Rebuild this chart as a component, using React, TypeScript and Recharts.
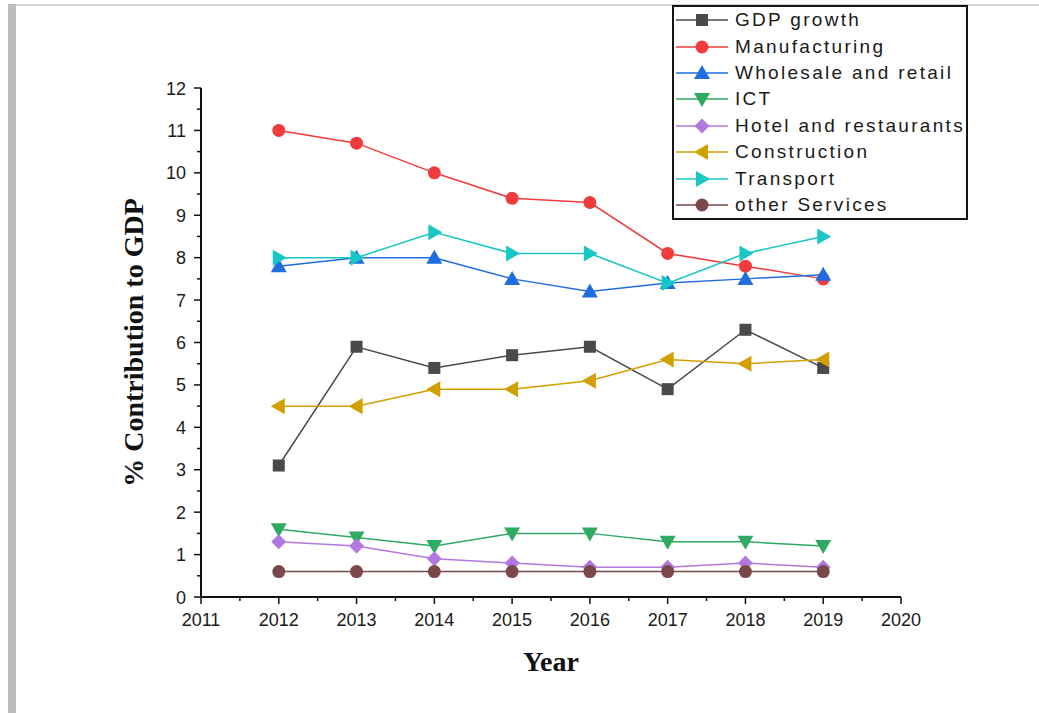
import React from "react";
import { LineChart, Line, XAxis, YAxis, Legend } from "recharts";

// Years on the x axis
const years = [2012, 2013, 2014, 2015, 2016, 2017, 2018, 2019];

// Sector contributions (% of GDP) and GDP growth
const gdpGrowth = [3.1, 5.9, 5.4, 5.7, 5.9, 4.9, 6.3, 5.4];
const manufacturing = [11.0, 10.7, 10.0, 9.4, 9.3, 8.1, 7.8, 7.5];
const wholesaleRetail = [7.8, 8.0, 8.0, 7.5, 7.2, 7.4, 7.5, 7.6];
const ict = [1.6, 1.4, 1.2, 1.5, 1.5, 1.3, 1.3, 1.2];
const hotelRestaurants = [1.3, 1.2, 0.9, 0.8, 0.7, 0.7, 0.8, 0.7];
const construction = [4.5, 4.5, 4.9, 4.9, 5.1, 5.6, 5.5, 5.6];
const transport = [8.0, 8.0, 8.6, 8.1, 8.1, 7.4, 8.1, 8.5];
const otherServices = [0.6, 0.6, 0.6, 0.6, 0.6, 0.6, 0.6, 0.6];

// Axis ticks: labelled majors and unlabelled minors
const xMajorTicks = [2011, 2012, 2013, 2014, 2015, 2016, 2017, 2018, 2019, 2020];
const xMinorTicks = [2011.5, 2012.5, 2013.5, 2014.5, 2015.5, 2016.5, 2017.5, 2018.5, 2019.5];
const yMajorTicks = [0, 1, 2, 3, 4, 5, 6, 7, 8, 9, 10, 11, 12];
const yMinorTicks = [0.5, 1.5, 2.5, 3.5, 4.5, 5.5, 6.5, 7.5, 8.5, 9.5, 10.5, 11.5];

const xAllTicks = [...xMajorTicks, ...xMinorTicks].sort((a, b) => a - b);
const yAllTicks = [...yMajorTicks, ...yMinorTicks].sort((a, b) => a - b);

type Shape = "square" | "circle" | "up" | "down" | "diamond" | "left" | "right";

const series: { key: string; name: string; color: string; shape: Shape; values: number[] }[] = [
  { key: "gdp", name: "GDP growth", color: "#4a4a4a", shape: "square", values: gdpGrowth },
  { key: "mfg", name: "Manufacturing", color: "#f03c3c", shape: "circle", values: manufacturing },
  { key: "whl", name: "Wholesale and retail", color: "#1f6ddf", shape: "up", values: wholesaleRetail },
  { key: "ict", name: "ICT", color: "#2eaa62", shape: "down", values: ict },
  { key: "htl", name: "Hotel and restaurants", color: "#b377e0", shape: "diamond", values: hotelRestaurants },
  { key: "con", name: "Construction", color: "#d29f00", shape: "left", values: construction },
  { key: "trn", name: "Transport", color: "#19c6c6", shape: "right", values: transport },
  { key: "oth", name: "other Services", color: "#7a4848", shape: "circle", values: otherServices },
];

const data = years.map((year, i) => {
  const row: Record<string, number> = { year };
  series.forEach((s) => {
    row[s.key] = s.values[i];
  });
  return row;
});

function Marker({ cx, cy, shape, color }: { cx: number; cy: number; shape: Shape; color: string }) {
  switch (shape) {
    case "square":
      return <rect x={cx - 6} y={cy - 6} width={12} height={12} fill={color} />;
    case "circle":
      return <circle cx={cx} cy={cy} r={6.5} fill={color} />;
    case "up":
      return <polygon points={`${cx},${cy - 8} ${cx + 8},${cy + 6} ${cx - 8},${cy + 6}`} fill={color} />;
    case "down":
      return <polygon points={`${cx},${cy + 8} ${cx + 8},${cy - 6} ${cx - 8},${cy - 6}`} fill={color} />;
    case "diamond":
      return <polygon points={`${cx},${cy - 7.5} ${cx + 7.5},${cy} ${cx},${cy + 7.5} ${cx - 7.5},${cy}`} fill={color} />;
    case "left":
      return <polygon points={`${cx - 8},${cy} ${cx + 6},${cy - 8} ${cx + 6},${cy + 8}`} fill={color} />;
    case "right":
      return <polygon points={`${cx + 8},${cy} ${cx - 6},${cy - 8} ${cx - 6},${cy + 8}`} fill={color} />;
  }
  return null;
}

const tickFontFamily = "Arial, 'Liberation Sans', sans-serif";
const MAJOR_LEN = 7;
const MINOR_LEN = 4;

// Bottom axis tick: tick line pointing down, label under majors
function XTick({ x, y, payload }: any) {
  const major = Number.isInteger(payload.value);
  return (
    <g>
      <line x1={x} x2={x} y1={y} y2={y + (major ? MAJOR_LEN : MINOR_LEN)} stroke="#111" strokeWidth={1.5} />
      {major && (
        <text x={x} y={y + 29} textAnchor="middle" fontFamily={tickFontFamily} fontSize={18} fill="#1a1a1a">
          {payload.value}
        </text>
      )}
    </g>
  );
}

// Left axis tick: tick line pointing left, label beside majors
function YTick({ x, y, payload }: any) {
  const major = Number.isInteger(payload.value);
  return (
    <g>
      <line x1={x} x2={x - (major ? MAJOR_LEN : MINOR_LEN)} y1={y} y2={y} stroke="#111" strokeWidth={1.5} />
      {major && (
        <text x={x - 15} y={y + 6.5} textAnchor="end" fontFamily={tickFontFamily} fontSize={18} fill="#1a1a1a">
          {payload.value}
        </text>
      )}
    </g>
  );
}

function LegendBox() {
  return (
    <div
      style={{
        width: 296,
        height: 215,
        boxSizing: "border-box",
        border: "2px solid #151515",
        background: "#fff",
      }}
    >
      {series.map((s) => (
        <div key={s.key} style={{ display: "flex", alignItems: "center", height: 26.4 }}>
          <svg width={58} height={26} style={{ display: "block" }}>
            <line x1={2} x2={54} y1={13} y2={13} stroke={s.color} strokeWidth={1.5} />
            <Marker cx={28} cy={13} shape={s.shape} color={s.color} />
          </svg>
          <span
            style={{
              fontFamily: tickFontFamily,
              fontSize: 19,
              letterSpacing: 2.3,
              color: "#1a1a1a",
              marginLeft: 3,
              whiteSpace: "nowrap",
            }}
          >
            {s.name}
          </span>
        </div>
      ))}
    </div>
  );
}

export default function App() {
  return (
    <div style={{ position: "absolute", left: 0, top: 0, width: 1039, height: 713, background: "#fff" }}>
      {/* page frame */}
      <div style={{ position: "absolute", left: 8, top: 4, width: 8, height: 709, background: "#bdbdbd" }} />
      <div style={{ position: "absolute", left: 16, top: 4, width: 1023, height: 2, background: "#d4d4d4" }} />
      <div style={{ position: "absolute", left: 0, top: 0 }}>
        <LineChart
          width={1039}
          height={713}
          data={data}
          margin={{ top: 88, right: 138, bottom: 56, left: 121 }}
        >
          <XAxis
            dataKey="year"
            type="number"
            domain={[2011, 2020]}
            ticks={xAllTicks}
            interval={0}
            height={60}
            tickSize={0}
            tickMargin={0}
            tickLine={false}
            axisLine={{ stroke: "#111", strokeWidth: 2 }}
            tick={<XTick />}
            label={(props: any) => {
              const vb = props.viewBox;
              return (
                <text
                  x={vb.x + vb.width / 2}
                  y={vb.y + 74}
                  textAnchor="middle"
                  fontFamily="'Times New Roman', 'Liberation Serif', serif"
                  fontWeight="bold"
                  fontSize={28}
                  fill="#111"
                >
                  Year
                </text>
              );
            }}
          />
          <YAxis
            type="number"
            domain={[0, 12]}
            ticks={yAllTicks}
            interval={0}
            width={80}
            tickSize={0}
            tickMargin={0}
            tickLine={false}
            axisLine={{ stroke: "#111", strokeWidth: 2 }}
            tick={<YTick />}
            label={(props: any) => {
              const vb = props.viewBox;
              const cx = vb.x + 22;
              const cy = vb.y + vb.height / 2;
              return (
                <text
                  x={cx}
                  y={cy}
                  transform={`rotate(-90 ${cx} ${cy})`}
                  textAnchor="middle"
                  fontFamily="'Times New Roman', 'Liberation Serif', serif"
                  fontWeight="bold"
                  fontSize={28}
                  fill="#111"
                >
                  % Contribution to GDP
                </text>
              );
            }}
          />
          <Legend
            layout="vertical"
            align="center"
            verticalAlign="middle"
            content={<LegendBox />}
            wrapperStyle={{ left: 672, top: 5, width: 296, height: 215 }}
          />
          {series.map((s) => (
            <Line
              key={s.key}
              dataKey={s.key}
              name={s.name}
              stroke={s.color}
              strokeWidth={1.5}
              isAnimationActive={false}
              dot={(p: any) => (
                <Marker key={`${s.key}-${p.index}`} cx={p.cx} cy={p.cy} shape={s.shape} color={s.color} />
              )}
              activeDot={false}
            />
          ))}
        </LineChart>
      </div>
    </div>
  );
}
